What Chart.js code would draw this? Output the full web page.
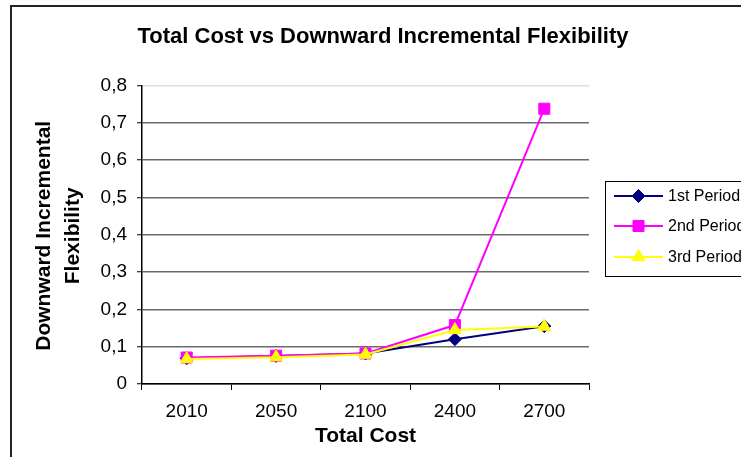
<!DOCTYPE html>
<html>
<head>
<meta charset="utf-8">
<script src="https://cdn.jsdelivr.net/npm/chart.js@4.4.1/dist/chart.umd.min.js"></script>
<style>
  html, body { margin: 0; padding: 0; background: #fff; }
  canvas { display: block; }
</style>
</head>
<body>
<canvas id="c" width="741" height="457"></canvas>
<script>
const categories = ['2010', '2050', '2100', '2400', '2700'];
const period1 = [0.069, 0.075, 0.082, 0.120, 0.155];
const period2 = [0.071, 0.076, 0.082, 0.158, 0.738];
const period3 = [0.067, 0.072, 0.079, 0.145, 0.154];
const seriesNames = ['1st Period', '2nd Period', '3rd Period'];
const chartTitle = 'Total Cost vs Downward Incremental Flexibility';
const xTitle = 'Total Cost';
const yTitleLines = ['Downward Incremental', 'Flexibility'];

const FONT = '"Liberation Sans", Arial, sans-serif';

const decor = {
  id: 'decor',
  beforeDraw(chart) {
    const ctx = chart.ctx;
    ctx.save();
    ctx.fillStyle = '#fff';
    ctx.fillRect(0, 0, chart.width, chart.height);
    ctx.restore();
  },
  afterDraw(chart) {
    const ctx = chart.ctx;
    const a = chart.chartArea;
    ctx.save();
    // outer frame
    ctx.strokeStyle = '#222';
    ctx.lineWidth = 2;
    ctx.beginPath();
    ctx.moveTo(11, chart.height + 5);
    ctx.lineTo(11, 6);
    ctx.lineTo(chart.width + 5, 6);
    ctx.stroke();
    // title
    ctx.fillStyle = '#000';
    ctx.textAlign = 'center';
    ctx.textBaseline = 'middle';
    ctx.font = 'bold 22px ' + FONT;
    ctx.fillText(chartTitle, 383, 37);
    // x title
    ctx.font = 'bold 21px ' + FONT;
    ctx.fillText(xTitle, (a.left + a.right) / 2, 436);
    // y title
    ctx.save();
    ctx.translate(44, (a.top + a.bottom) / 2 + 1);
    ctx.rotate(-Math.PI / 2);
    ctx.fillText(yTitleLines[0], 0, 0);
    ctx.fillText(yTitleLines[1], 0, 29);
    ctx.restore();
    // legend
    ctx.strokeStyle = '#000';
    ctx.lineWidth = 1;
    ctx.strokeRect(605.5, 181.5, 200, 95);
    const rows = [196, 226, 257];
    chart.data.datasets.forEach((ds, i) => {
      const y = rows[i];
      ctx.strokeStyle = ds.borderColor;
      ctx.lineWidth = 2;
      ctx.beginPath();
      ctx.moveTo(614, y);
      ctx.lineTo(663, y);
      ctx.stroke();
      ctx.fillStyle = ds.pointBackgroundColor;
      ctx.strokeStyle = ds.pointBorderColor;
      ctx.lineWidth = 1;
      Chart.helpers.drawPoint(ctx, {pointStyle: ds.pointStyle, radius: ds.pointRadius, rotation: 0, borderWidth: 1}, 638.5, y);
      ctx.fillStyle = '#000';
      ctx.textAlign = 'left';
      ctx.textBaseline = 'middle';
      ctx.font = '16px ' + FONT;
      ctx.fillText(ds.label, 668, y + 1);
    });
    ctx.restore();
  }
};

new Chart(document.getElementById('c'), {
  type: 'line',
  data: {
    labels: categories,
    datasets: [
      {
        label: seriesNames[0], data: period1, order: 3,
        borderColor: '#000080', backgroundColor: '#000080',
        pointBackgroundColor: '#000080', pointBorderColor: '#000080',
        pointStyle: 'rectRot', pointRadius: 6.5, borderWidth: 2, pointBorderWidth: 1
      },
      {
        label: seriesNames[1], data: period2, order: 2,
        borderColor: '#FF00FF', backgroundColor: '#FF00FF',
        pointBackgroundColor: '#FF00FF', pointBorderColor: '#FF00FF',
        pointStyle: 'rect', pointRadius: 7.8, borderWidth: 2, pointBorderWidth: 1
      },
      {
        label: seriesNames[2], data: period3, order: 1,
        borderColor: '#FFFF00', backgroundColor: '#FFFF00',
        pointBackgroundColor: '#FFFF00', pointBorderColor: '#FFFF00',
        pointStyle: 'triangle', pointRadius: 7.4, borderWidth: 2, pointBorderWidth: 1
      }
    ]
  },
  options: {
    responsive: false,
    animation: false,
    layout: { padding: { left: 0, top: 85.6, right: 152, bottom: 0 } },
    plugins: { legend: { display: false }, title: { display: false }, tooltip: { enabled: false } },
    elements: { line: { tension: 0 } },
    scales: {
      x: {
        type: 'category',
        offset: true,
        grid: { offset: true, drawOnChartArea: false, drawTicks: true, tickLength: 6, tickColor: '#000', tickWidth: 1 },
        border: { display: true, color: '#000', width: 1.5 },
        ticks: { color: '#000', font: { family: FONT, size: 19 }, padding: 10, maxRotation: 0, autoSkip: false },
        afterFit(scale) { scale.height = 457 - 384; scale.paddingLeft = 0; scale.paddingRight = 0; }
      },
      y: {
        min: 0, max: 0.8,
        grid: {
          color: (c) => (c.tick && Math.abs(c.tick.value - 0.8) < 1e-9) ? '#ddd' : '#6a6a6a',
          lineWidth: 1.5,
          tickLength: 5, tickColor: '#000', tickWidth: 1
        },
        border: { display: true, color: '#000', width: 1.5 },
        ticks: {
          stepSize: 0.1, color: '#000', padding: 10,
          font: { family: FONT, size: 19 },
          callback: (v) => (Math.round(v * 10) === 0 ? '0' : (Math.round(v * 10) / 10).toFixed(1).replace('.', ','))
        },
        afterFit(scale) { scale.width = 142; scale.paddingTop = 0; scale.paddingBottom = 0; }
      }
    }
  },
  plugins: [decor]
});
</script>
</body>
</html>
